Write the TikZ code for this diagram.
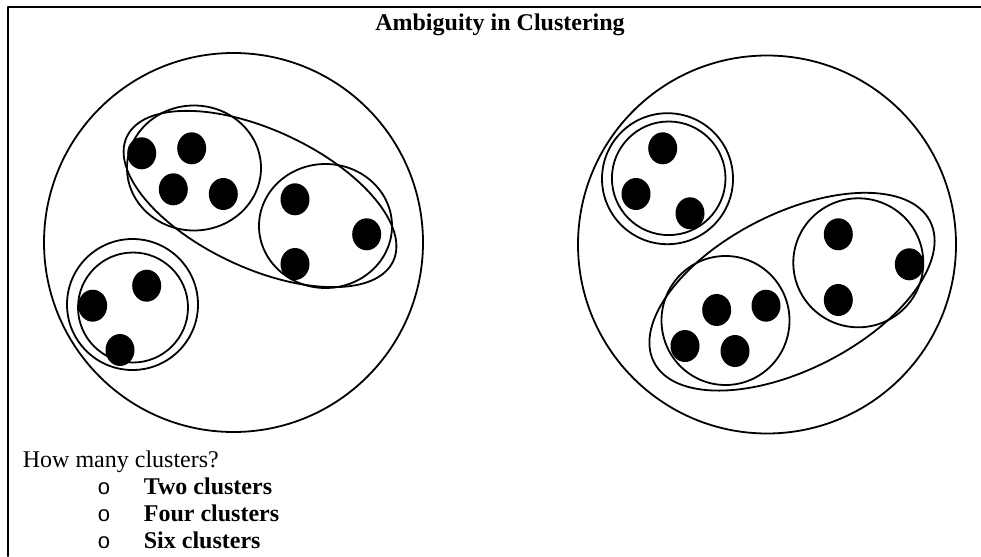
\documentclass[tikz,border=0pt]{standalone}
\usepackage{fontspec}
\setmainfont{Liberation Serif}
\newfontfamily\bulletfont{Liberation Sans}
\begin{document}
\begin{tikzpicture}[x=1pt,y=-1pt,line width=1.8pt,line cap=round,line join=round,
  ring/.style={black,line width=1.8pt},
  pt/.style={black,fill=black},
  txt/.style={anchor=base west,inner sep=0pt,font=\fontsize{24}{26}\selectfont}]
\useasboundingbox (0,0) rectangle (981,556);
\draw[black,line width=2.2pt] (8,556) -- (8,7) -- (981,7);
\node[anchor=base,inner sep=0pt,font=\fontsize{24}{26}\selectfont\bfseries] (title) at (500,31) {Ambiguity in Clustering};

% left: one big cluster, split three ways
\draw[ring] (233.5,242.5) circle (189.5);
\draw[ring,rotate around={-25:(260,199)}] (260,199) ellipse (147 and 69);
\draw[ring] (194,168) ellipse (67 and 62.5);
\draw[ring] (325.5,226) ellipse (66.5 and 62);
\draw[ring] (132.5,304.5) circle (65.5);
\draw[ring] (133,307.5) circle (55);
 \fill[pt] (141.7,153.3) ellipse (14.5 and 16);
 \fill[pt] (191.7,148.3) ellipse (14.5 and 16);
 \fill[pt] (173.3,189.3) ellipse (14.5 and 16);
 \fill[pt] (223.3,194) ellipse (14.5 and 16);
 \fill[pt] (295,199.3) ellipse (14.5 and 16);
 \fill[pt] (366.7,234.3) ellipse (14.5 and 16);
 \fill[pt] (295,264) ellipse (14.5 and 16);
 \fill[pt] (146.7,285.7) ellipse (14.5 and 16);
 \fill[pt] (92.7,305.7) ellipse (14.5 and 16);
 \fill[pt] (120,350) ellipse (14.5 and 16);

% right: same points, grouped the other way
\draw[ring] (767,244.5) circle (189);
\draw[ring,rotate around={27:(792,291.7)}] (792,291.7) ellipse (155 and 78);
\draw[ring] (667.5,178.7) circle (65.5);
\draw[ring] (668.7,178.3) circle (56.8);
\draw[ring] (725.5,320.5) ellipse (64 and 64.5);
\draw[ring] (858.3,262.8) ellipse (65 and 64.5);
 \fill[pt] (662.7,148.3) ellipse (14.5 and 16);
 \fill[pt] (636,194) ellipse (14.5 and 16);
 \fill[pt] (690,213.3) ellipse (14.5 and 16);
 \fill[pt] (716.7,310) ellipse (14.5 and 16);
 \fill[pt] (766,305.7) ellipse (14.5 and 16);
 \fill[pt] (685,346) ellipse (14.5 and 16);
 \fill[pt] (735,351) ellipse (14.5 and 16);
 \fill[pt] (838.3,234.3) ellipse (14.5 and 16);
 \fill[pt] (909.3,264.3) ellipse (14.5 and 16);
 \fill[pt] (838.3,300) ellipse (14.5 and 16);

\node[txt] (question) at (22,467) {How many clusters?};
\node[txt,font=\fontsize{22}{26}\bulletfont] (b1) at (97,494) {o};
\node[txt,font=\fontsize{22}{26}\bulletfont] (b2) at (97,521) {o};
\node[txt,font=\fontsize{22}{26}\bulletfont] (b3) at (97,548) {o};
\node[txt,font=\fontsize{24}{26}\selectfont\bfseries] (two) at (143,494) {Two clusters};
\node[txt,font=\fontsize{24}{26}\selectfont\bfseries] (four) at (143,521) {Four clusters};
\node[txt,font=\fontsize{24}{26}\selectfont\bfseries] (six) at (143,548) {Six clusters};
\end{tikzpicture}
\end{document}
